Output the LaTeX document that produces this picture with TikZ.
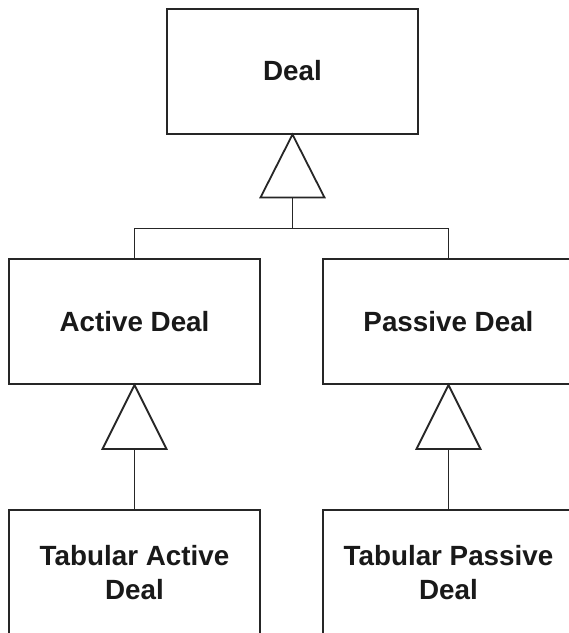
\documentclass[tikz,border=0pt]{standalone}
\usepackage{fontspec}
\setmainfont{Liberation Sans}
\usetikzlibrary{calc}
\begin{document}
\begin{tikzpicture}[x=1pt,y=-1pt,
  cls/.style={draw=black!85, line width=2pt, fill=white, minimum width=251pt, minimum height=125pt,
    inner sep=0pt, align=center, font=\fontsize{27.8}{34}\selectfont\bfseries, text=black!90},
  gen/.style={draw=black!85, line width=1.8pt, line join=miter},
  ln/.style={draw=black!85, line width=1.8pt}]
\useasboundingbox (0,0) rectangle (569,633);
\clip (0,0) rectangle (569,633);
\node[cls] (deal) at (292.5,71) {Deal};
\node[cls] (active) at (134.5,321.5) {Active Deal};
\node[cls] (passive) at (448.5,321.5) {Passive Deal};
\node[cls] (tabA) at (134.5,572.5) {Tabular Active\\Deal};
\node[cls] (tabP) at (448.5,572.5) {Tabular Passive\\Deal};
% generalization triangles
\draw[gen] (deal.south) -- ++(-32,63) -- ++(64,0) -- cycle;
\coordinate (t0) at ($(deal.south)+(0,63)$);
\coordinate (j0) at ($(t0)+(0,31)$);
\draw[ln] (t0) -- (j0);
\draw[ln] (j0) -| (active.north);
\draw[ln] (j0) -| (passive.north);
\draw[gen] (active.south) -- ++(-32,64) -- ++(64,0) -- cycle;
\coordinate (t1) at ($(active.south)+(0,64)$);
\draw[ln] (t1) -- (tabA.north);
\draw[gen] (passive.south) -- ++(-32,64) -- ++(64,0) -- cycle;
\coordinate (t2) at ($(passive.south)+(0,64)$);
\draw[ln] (t2) -- (tabP.north);
\end{tikzpicture}
\end{document}
